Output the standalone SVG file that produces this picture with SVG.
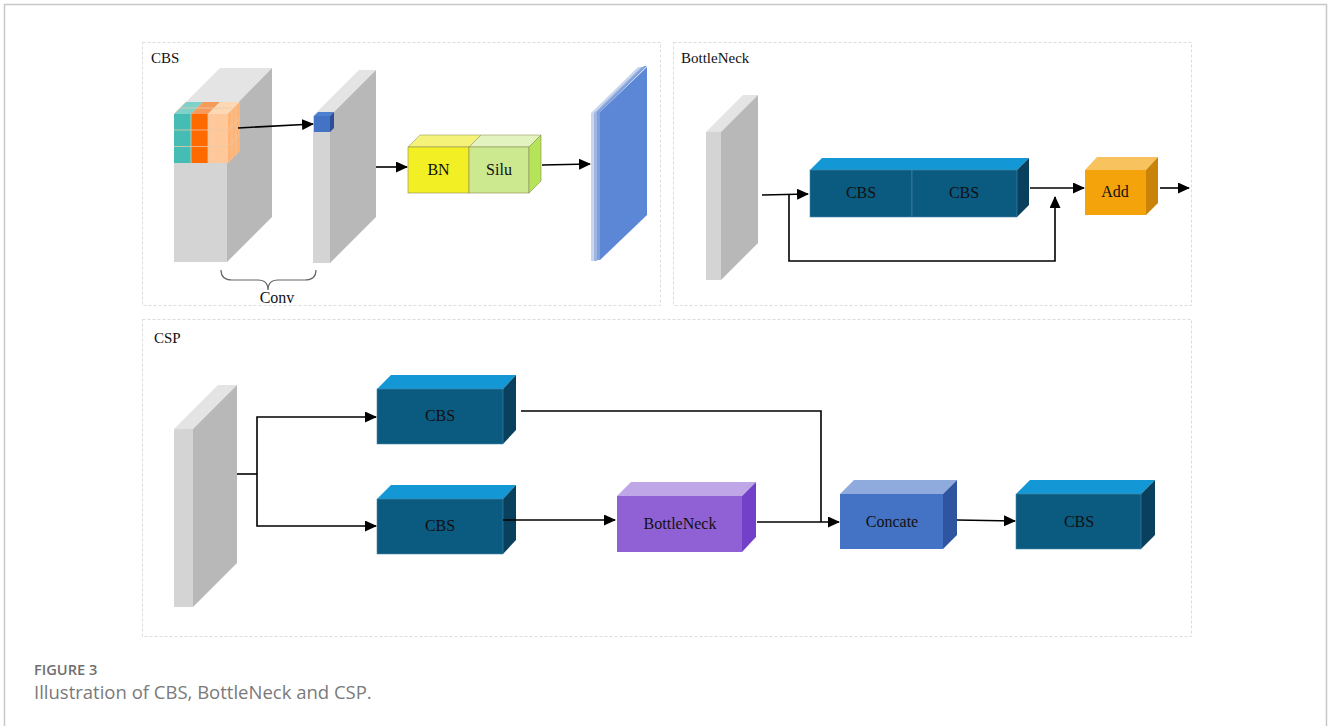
<svg xmlns="http://www.w3.org/2000/svg" width="1328" height="726" viewBox="0 0 1328 726">
<defs>
<marker id="ah" markerWidth="12" markerHeight="11" refX="11" refY="5.5" orient="auto" markerUnits="userSpaceOnUse">
<path d="M0,0 L12,5.5 L0,11 Z" fill="#000"/>
</marker>
<style>
.panel{fill:none;stroke:#dcdcdc;stroke-width:1;stroke-dasharray:3,2}
.lbl{font-family:"Liberation Serif",serif;font-size:15px;fill:#111}
.t{font-family:"Liberation Serif",serif;font-size:16px;fill:#111;text-anchor:middle}
.c{fill:none;stroke:#000;stroke-width:1.6}
.ca{fill:none;stroke:#000;stroke-width:1.6;marker-end:url(#ah)}
.gf{fill:#d4d4d4}.gt{fill:#e4e4e4}.gs{fill:#b8b8b8}
.cf{fill:#0b5a80;stroke:#4a88a8;stroke-width:0.6}.ct{fill:#1498d5}.cs{fill:#08405e}
.grid{stroke:#e9c9a8;stroke-width:0.8;fill:none}
</style>
</defs>
<rect width="1328" height="726" fill="#fff"/>
<path d="M4.5,726 V4.5 H1326.5 V726" fill="none" stroke="#c8c8c8" stroke-width="1.5"/>

<g id="panels">
<rect class="panel" x="142.5" y="42.5" width="518" height="263"/>
<rect class="panel" x="673.5" y="42.5" width="518" height="263"/>
<rect class="panel" x="142.5" y="319.5" width="1049" height="317"/>
<text class="lbl" x="151" y="63">CBS</text>
<text class="lbl" x="681" y="63">BottleNeck</text>
<text class="lbl" x="154" y="343">CSP</text>
</g>

<g id="input-block">
<polygon class="gt" points="174,114 220,68 272,68 227,114"/>
<polygon class="gs" points="227,114 272,68 272,217 227,262"/>
<rect class="gf" x="174" y="114" width="53" height="148"/>
</g>
<g id="kernel-cube">
<polygon fill="#7fd1cb" points="174,114 186,102 203,102 191,114"/>
<polygon fill="#f59a5a" points="191,114 203,102 220,102 208,114"/>
<polygon fill="#fcd9b4" points="208,114 220,102 240,102 228,114"/>
<rect x="174" y="114" width="17" height="49" fill="#45bdb4"/>
<rect x="191" y="114" width="17" height="49" fill="#ff6a00"/>
<rect x="208" y="114" width="20" height="49" fill="#ffc89a"/>
<polygon fill="#ffb374" points="228,114 240,102 240,151 228,163"/>
<path class="grid" d="M174,130 H228 M174,146.5 H228 M191,114 V163 M208,114 V163 M228,130 L240,118 M228,146.5 L240,134.5 M232,110 V159 M236,106 V155 M180,108 H232 M186,102 L174,114"/>
</g>
<g id="feature-slab">
<polygon class="gt" points="313,116 359,70 376,70 330,116"/>
<polygon class="gs" points="330,116 376,70 376,217 330,263"/>
<rect class="gf" x="313" y="116" width="17" height="147"/>
<polygon fill="#4f7fd0" points="314,116 318,112 334,112 330,116"/>
<rect x="314" y="116" width="16" height="16" fill="#4472c4"/>
<polygon fill="#2c4f95" points="330,116 334,112 334,128 330,132"/>
</g>
<g id="bn-silu">
<polygon fill="#f5f27a" stroke="#9a9a60" stroke-width="0.6" points="408,147 420,135 481,135 469,147"/>
<polygon fill="#e2f3c0" stroke="#9a9a60" stroke-width="0.6" points="469,147 481,135 541,135 529,147"/>
<rect x="408" y="147" width="61" height="46" fill="#f2ef25" stroke="#8a8a50" stroke-width="0.6"/>
<rect x="469" y="147" width="60" height="46" fill="#cde98f" stroke="#8a8a50" stroke-width="0.6"/>
<polygon fill="#b5e35a" stroke="#8a8a50" stroke-width="0.6" points="529,147 541,135 541,181 529,193"/>
<text class="t" x="438.5" y="175">BN</text>
<text class="t" x="499" y="175">Silu</text>
</g>
<g id="output-maps">
<polygon fill="#c9d6ee" points="591,113 638,67 641,67 594,113 594,261 591,261"/>
<polygon fill="#9fb6e3" points="594,113 641,67 644,67 597,113 597,261 594,261"/>
<polygon fill="#7e9edc" points="597,112 644,66 647,66 600,112 600,260 597,260"/>
<polygon fill="#5b87d6" points="600,112 647,67 647,215 600,260"/>
</g>
<g id="conv-brace">
<path d="M221,270 Q221,280 232,280 L258,280 Q268,280 268,290 Q268,280 278,280 L305,280 Q316,280 316,270" fill="none" stroke="#666" stroke-width="1.2"/>
<text class="t" x="277" y="303">Conv</text>
</g>

<g id="bn-input-slab">
<polygon class="gt" points="706,132 743,95 758,95 721,132"/>
<polygon class="gs" points="721,132 758,95 758,243 721,280"/>
<rect class="gf" x="706" y="132" width="15" height="148"/>
</g>
<g id="bn-cbs">
<polygon class="ct" points="810,170 822,158 1029,158 1017,170"/>
<polygon class="cs" points="1017,170 1029,158 1029,205 1017,217"/>
<rect class="cf" x="810" y="170" width="102" height="47"/>
<rect class="cf" x="912" y="170" width="105" height="47"/>
<text class="t" x="861" y="198">CBS</text>
<text class="t" x="964" y="198">CBS</text>
</g>
<g id="bn-add">
<polygon fill="#f8c35e" points="1085,170 1097,157 1158,157 1146,170"/>
<polygon fill="#c98308" points="1146,170 1158,157 1158,203 1146,215"/>
<rect x="1085" y="170" width="61" height="45" fill="#f5a30a"/>
<text class="t" x="1115" y="197">Add</text>
</g>

<g id="csp-input-slab">
<polygon class="gt" points="174,429 218,385 237,385 193,429"/>
<polygon class="gs" points="193,429 237,385 237,563 193,607"/>
<rect class="gf" x="174" y="429" width="19" height="178"/>
</g>
<g id="csp-cbs1">
<polygon class="ct" points="377,389 391,375 516,375 503,389"/>
<polygon class="cs" points="503,389 516,375 516,430 503,444"/>
<rect class="cf" x="377" y="389" width="126" height="55"/>
<text class="t" x="440" y="421">CBS</text>
</g>
<g id="csp-cbs2">
<polygon class="ct" points="377,499 391,485 516,485 503,499"/>
<polygon class="cs" points="503,499 516,485 516,540 503,554"/>
<rect class="cf" x="377" y="499" width="126" height="55"/>
<text class="t" x="440" y="531">CBS</text>
</g>
<g id="csp-bottleneck">
<polygon fill="#bfa6e6" points="617,496 631,482 756,482 742,496"/>
<polygon fill="#7340c9" points="742,496 756,482 756,537 742,552"/>
<rect x="617" y="496" width="125" height="56" fill="#9061d4"/>
<text class="t" x="680" y="529" font-size="15">BottleNeck</text>
</g>
<g id="csp-concate">
<polygon fill="#8faadc" points="840,494 854,480 957,480 943,494"/>
<polygon fill="#2f55a0" points="943,494 957,480 957,535 943,549"/>
<rect x="840" y="494" width="103" height="55" fill="#4472c4"/>
<text class="t" x="892" y="527" font-size="15">Concate</text>
</g>
<g id="csp-cbs3">
<polygon class="ct" points="1016,494 1030,480 1155,480 1141,494"/>
<polygon class="cs" points="1141,494 1155,480 1155,535 1141,549"/>
<rect class="cf" x="1016" y="494" width="125" height="55"/>
<text class="t" x="1079" y="527">CBS</text>
</g>

<g id="connectors">
<line class="ca" x1="238" y1="128" x2="313" y2="124"/>
<line class="ca" x1="376" y1="167" x2="407" y2="167"/>
<line class="ca" x1="542" y1="165" x2="590" y2="164"/>
<line class="ca" x1="762" y1="195" x2="808" y2="194"/>
<path class="ca" d="M789,195 V261 H1055 V197"/>
<line class="ca" x1="1030" y1="188" x2="1084" y2="188"/>
<line class="ca" x1="1160" y1="188" x2="1189" y2="188"/>
<line class="c" x1="237" y1="474" x2="257" y2="474"/>
<path class="ca" d="M257,474 V417 H376"/>
<path class="ca" d="M257,474 V526 H376"/>
<path class="c" d="M521,411 H821 V522"/>
<line class="ca" x1="503" y1="520" x2="615" y2="520"/>
<line class="ca" x1="757" y1="522" x2="839" y2="522"/>
<line class="ca" x1="957" y1="520" x2="1015" y2="521"/>
</g>

<g id="caption">
<text x="34" y="675" font-family="'Open Sans',sans-serif" font-size="14.6" font-weight="600" fill="#6e6e6e">FIGURE 3</text>
<text x="34" y="699" font-family="'Open Sans',sans-serif" font-size="18.5" fill="#7a7a7a">Illustration of CBS, BottleNeck and CSP.</text>
</g>
</svg>
